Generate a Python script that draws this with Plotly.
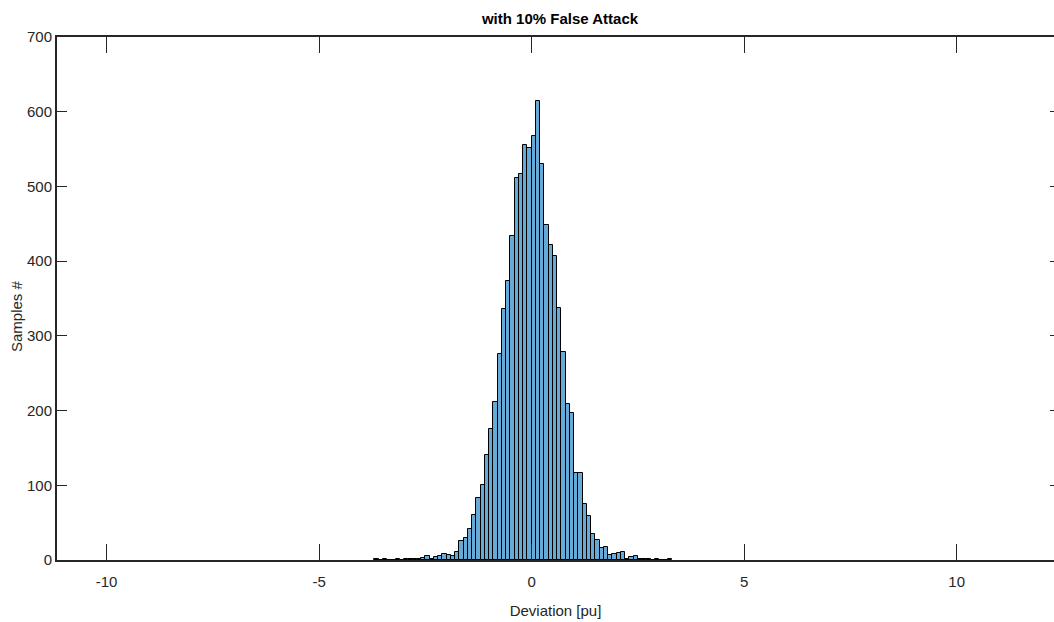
import plotly.graph_objects as go

# Histogram of deviation samples (bin width 0.1 pu)
bin_width = 0.1
bin_lefts = [k / 10 for k in range(-37, 33)]
counts = [
    1, 0, 1, 0, 0, 1, 0, 1, 2, 1,          # -3.7 .. -2.8
    1, 3, 5, 1, 4, 6, 8, 7, 5, 11,         # -2.7 .. -1.8
    25, 29, 42, 60, 83, 100, 141, 175, 212, 276,   # -1.7 .. -0.8
    336, 374, 433, 511, 516, 555, 552,     # -0.7 .. -0.1
    568, 615, 530, 449, 422, 407, 337,     # 0.0 .. 0.6
    279, 209, 197, 117, 117, 75, 59, 35, 27, 16,   # 0.7 .. 1.6
    18, 7, 8, 9, 11, 1, 4, 5, 1, 1,        # 1.7 .. 2.6
    1, 0, 1, 0, 0, 1,                      # 2.7 .. 3.2
]
bin_centers = [round(b + bin_width / 2, 3) for b in bin_lefts]

x_ticks = [-10, -5, 0, 5, 10]
y_ticks = [0, 100, 200, 300, 400, 500, 600, 700]
x_range = [-11.165, 12.29]
y_range = [0, 700]

title_text = "with 10% False Attack"
x_label = "Deviation [pu]"
y_label = "Samples #"

axis_color = "#262626"
font_main = "Liberation Sans, Arial, Helvetica, sans-serif"

fig = go.Figure()
fig.add_trace(go.Bar(
    x=bin_centers,
    y=counts,
    width=bin_width,
    marker=dict(color="#66AAD7", line=dict(color="black", width=1)),
    showlegend=False,
    hoverinfo="x+y",
))
# Same histogram bound to the right-hand y axis (transparent) so that axis renders its ticks
fig.add_trace(go.Bar(
    x=bin_centers,
    y=counts,
    width=bin_width,
    yaxis="y2",
    marker=dict(color="rgba(0,0,0,0)", line=dict(width=0)),
    showlegend=False,
    hoverinfo="skip",
))

fig.update_layout(
    width=1054,
    height=622,
    margin=dict(l=57, r=0, t=37, b=62),
    paper_bgcolor="white",
    plot_bgcolor="white",
    bargap=0,
    barmode="overlay",
    title=dict(
        text=title_text,
        font=dict(family=font_main, size=15, color="black", weight="bold"),
        x=560 / 1054,
        xanchor="center",
        xref="container",
        y=1 - 19 / 622,
        yanchor="middle",
        yref="container",
    ),
    xaxis=dict(
        range=x_range,
        tickvals=x_ticks,
        ticktext=[str(v) for v in x_ticks],
        ticks="inside",
        ticklen=16,
        tickwidth=1,
        tickcolor=axis_color,
        showline=True,
        mirror="ticks",
        linecolor=axis_color,
        linewidth=2,
        showgrid=False,
        zeroline=False,
        ticklabelstandoff=7,
        tickfont=dict(family=font_main, size=15, color=axis_color),
        title=dict(text=x_label, font=dict(family=font_main, size=15, color=axis_color), standoff=16),
    ),
    yaxis=dict(
        range=y_range,
        tickvals=y_ticks,
        ticks="inside",
        ticklen=10,
        tickwidth=1,
        tickcolor=axis_color,
        showline=True,
        linecolor=axis_color,
        linewidth=2,
        showgrid=False,
        zeroline=False,
        tickfont=dict(family=font_main, size=15, color=axis_color),
    ),
    yaxis2=dict(
        overlaying="y",
        matches="y",
        side="right",
        anchor="x",
        range=y_range,
        tickvals=y_ticks,
        ticks="inside",
        ticklen=4,
        tickwidth=1,
        tickcolor=axis_color,
        showline=False,
        showgrid=False,
        zeroline=False,
        showticklabels=False,
    ),
)

# Rotated y-axis label
fig.add_annotation(
    text=y_label,
    textangle=-90,
    xref="paper", yref="paper",
    x=-40 / 997, y=(560 - 316) / 523,
    xanchor="center", yanchor="middle",
    showarrow=False,
    font=dict(family=font_main, size=15, color=axis_color),
)

fig.write_html("out.html")
